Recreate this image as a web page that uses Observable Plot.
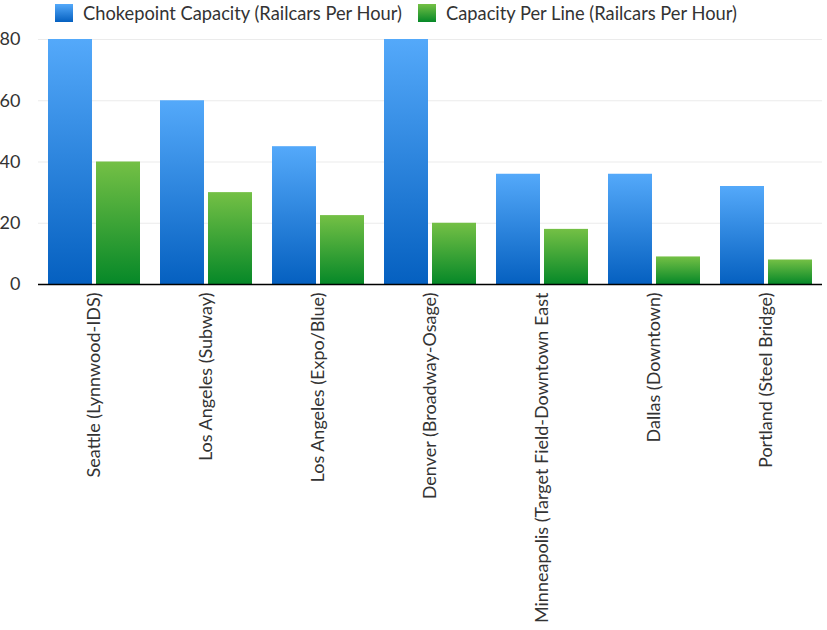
<!DOCTYPE html>
<html><head><meta charset="utf-8">
<script src="https://cdn.jsdelivr.net/npm/d3@7"></script>
<script src="https://cdn.jsdelivr.net/npm/@observablehq/plot@0.6"></script>
<style>
body{margin:0;background:#fff;font-family:Lato,sans-serif;}
#legend{height:30px;position:relative;font-size:18.3px;color:#333;}
.item{position:absolute;top:4px;height:18px;display:flex;align-items:center;white-space:nowrap;}
.sw{width:18px;height:18px;margin-right:10px;flex:none;}
</style></head><body>
<div id="legend"></div>
<div id="chart"></div>
<script>
const cities = [
  "Seattle (Lynnwood-IDS)",
  "Los Angeles (Subway)",
  "Los Angeles (Expo/Blue)",
  "Denver (Broadway-Osage)",
  "Minneapolis (Target Field-Downtown East",
  "Dallas (Downtown)",
  "Portland (Steel Bridge)"
];
const series = ["Chokepoint Capacity (Railcars Per Hour)", "Capacity Per Line (Railcars Per Hour)"];
const chokepoint = [80, 60, 45, 80, 36, 36, 32];
const perLine = [40, 30, 22.5, 20, 18, 9, 8];
const yTicks = [0, 20, 40, 60, 80];

const gradTop = ["#54a9fa", "#74c045"];
const gradBottom = ["#0560c0", "#068828"];
const gradIds = ["gBlue", "gGreen"];

const data = [];
cities.forEach((c, i) => {
  data.push({city: c, series: series[0], value: chokepoint[i]});
  data.push({city: c, series: series[1], value: perLine[i]});
});

// legend
const legend = document.getElementById("legend");
const lx = [55, 418];
series.forEach((s, i) => {
  const it = document.createElement("div");
  it.className = "item";
  it.style.left = lx[i] + "px";
  it.innerHTML = `<div class="sw" style="background:linear-gradient(${gradTop[i]},${gradBottom[i]})"></div><span>${s}</span>`;
  legend.appendChild(it);
});

const chart = Plot.plot({
  width: 827,
  height: 600,
  marginTop: 9,
  marginBottom: 346,
  marginLeft: 38,
  marginRight: 5,
  style: {fontFamily: "Lato, sans-serif", color: "#333", background: "#fff", overflow: "visible"},
  fx: {domain: cities, padding: 0, label: null, tickSize: 0, tickPadding: 8, tickRotate: -90},
  x: {domain: series, axis: null, paddingInner: 0.082, paddingOuter: 0.184},
  y: {domain: [0, 80], ticks: yTicks, label: null, tickSize: 0, tickPadding: 18},
  marks: [
    Plot.ruleY(yTicks.filter(d => d > 0), {stroke: "#ebebeb", strokeWidth: 1}),
    Plot.barY(data, {fx: "city", x: "series", y: "value",
      fill: d => `url(#${gradIds[series.indexOf(d.series)]})`}),
    Plot.ruleY([0], {stroke: "#000", strokeWidth: 1.5})
  ]
});

// gradient defs
const svg = d3.select(chart);
const defs = svg.insert("defs", ":first-child");
gradIds.forEach((id, i) => {
  const g = defs.append("linearGradient").attr("id", id).attr("x1", 0).attr("y1", 0).attr("x2", 0).attr("y2", 1);
  g.append("stop").attr("offset", "0%").attr("stop-color", gradTop[i]);
  g.append("stop").attr("offset", "100%").attr("stop-color", gradBottom[i]);
});
svg.selectAll("g[aria-label='y-axis tick label'] text, g[aria-label='y-axis'] text").style("font-size", "18px");
svg.selectAll("g[aria-label='fx-axis tick label'] text, g[aria-label='fx-axis'] text").style("font-size", "18px");
document.getElementById("chart").appendChild(chart);
</script>
</body></html>
